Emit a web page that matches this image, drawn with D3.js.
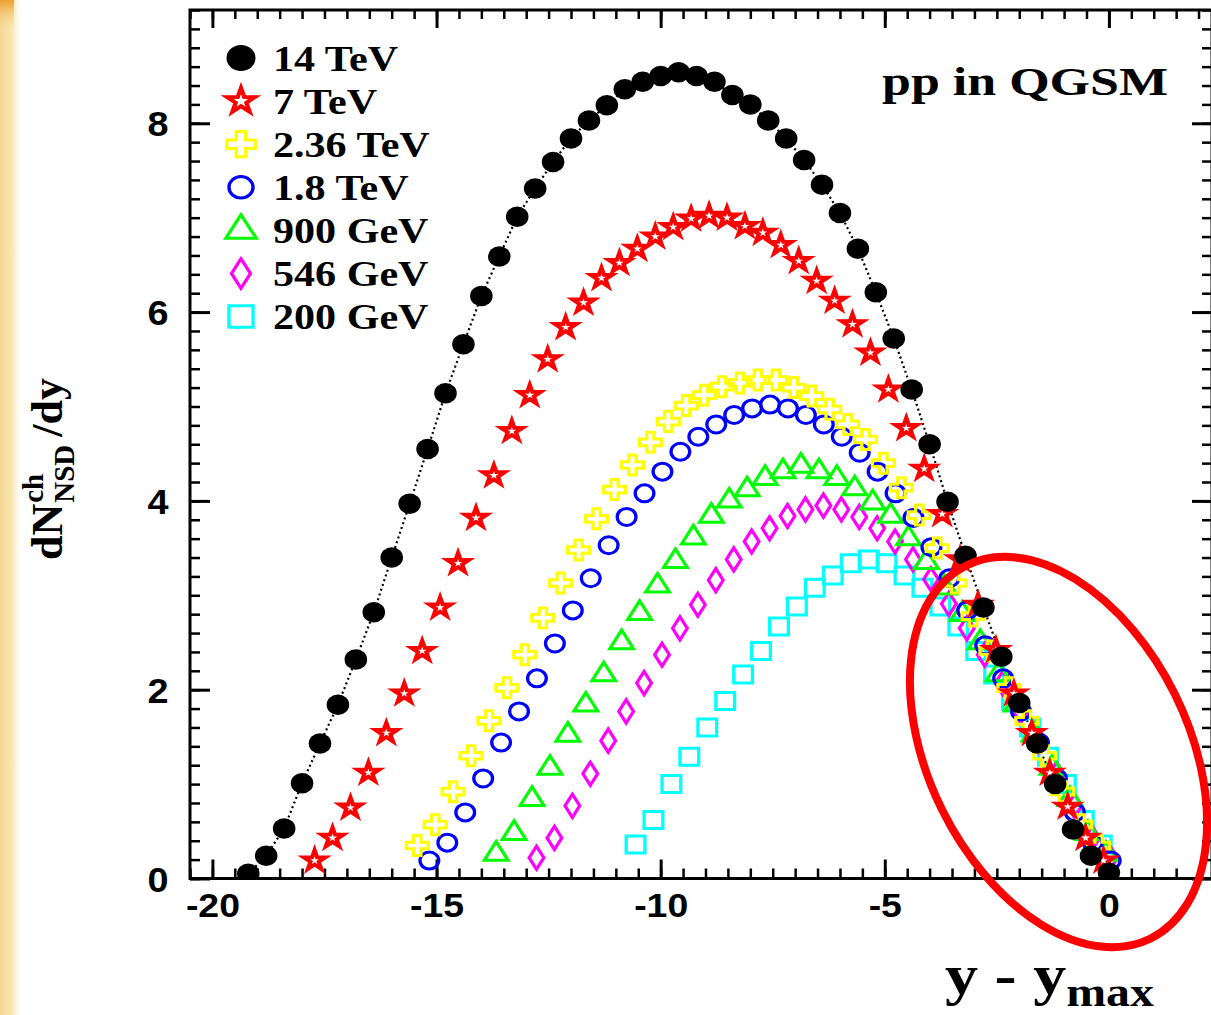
<!DOCTYPE html>
<html><head><meta charset="utf-8">
<script src="https://cdn.jsdelivr.net/npm/d3@7"></script>
<style>body{margin:0;background:#fff}svg{display:block}</style>
</head><body>
<svg id="c" width="1211" height="1015"></svg>
<script>
// ---------- data ----------
const seriesNames = ["14 TeV","7 TeV","2.36 TeV","1.8 TeV","900 GeV","546 GeV","200 GeV"];

const x14TeV = [-19.2,-18.8,-18.4,-18.0,-17.6,-17.2,-16.8,-16.4,-16.0,-15.6,-15.2,-14.8,-14.4,-14.0,-13.6,-13.2,-12.8,-12.4,-12.0,-11.6,-11.2,-10.8,-10.4,-10.0,-9.6,-9.2,-8.8,-8.4,-8.0,-7.6,-7.2,-6.8,-6.4,-6.0,-5.6,-5.2,-4.8,-4.4,-4.0,-3.6,-3.2,-2.8,-2.4,-2.0,-1.6,-1.2,-0.8,-0.4,0.0];
const y14TeV = [0.05,0.24,0.53,1.01,1.43,1.84,2.32,2.82,3.40,3.97,4.55,5.14,5.66,6.17,6.59,7.01,7.31,7.59,7.84,8.03,8.19,8.36,8.44,8.50,8.54,8.50,8.44,8.30,8.20,8.03,7.84,7.61,7.35,7.05,6.67,6.21,5.72,5.18,4.60,3.99,3.42,2.87,2.35,1.86,1.43,1.00,0.52,0.24,0.06];

const x7TeV = [-17.72,-17.32,-16.92,-16.52,-16.12,-15.72,-15.32,-14.92,-14.52,-14.12,-13.72,-13.32,-12.92,-12.52,-12.12,-11.72,-11.32,-10.92,-10.52,-10.12,-9.72,-9.32,-8.92,-8.52,-8.12,-7.72,-7.32,-6.92,-6.52,-6.12,-5.72,-5.32,-4.92,-4.52,-4.12,-3.72,-3.32,-2.92,-2.52,-2.12,-1.72,-1.32,-0.92,-0.52,-0.12];
const y7TeV = [0.19,0.43,0.75,1.12,1.54,1.96,2.41,2.87,3.34,3.82,4.27,4.74,5.12,5.50,5.84,6.10,6.36,6.52,6.67,6.80,6.90,6.99,7.02,7.00,6.91,6.84,6.71,6.54,6.33,6.12,5.87,5.57,5.18,4.77,4.34,3.86,3.38,2.90,2.42,1.96,1.54,1.12,0.76,0.43,0.19];

const x236TeV = [-15.43,-15.03,-14.63,-14.23,-13.83,-13.43,-13.03,-12.63,-12.23,-11.83,-11.43,-11.03,-10.63,-10.23,-9.83,-9.43,-9.03,-8.63,-8.23,-7.83,-7.43,-7.03,-6.63,-6.23,-5.83,-5.43,-5.03,-4.63,-4.23,-3.83,-3.43,-3.03,-2.63,-2.23,-1.83,-1.43,-1.03,-0.63,-0.23];
const y236TeV = [0.35,0.57,0.92,1.30,1.67,2.02,2.37,2.76,3.13,3.48,3.81,4.12,4.38,4.62,4.84,5.01,5.12,5.21,5.25,5.28,5.28,5.20,5.11,4.97,4.81,4.65,4.40,4.14,3.85,3.50,3.13,2.78,2.41,2.02,1.67,1.30,0.92,0.57,0.35];

const x18TeV = [-15.16,-14.76,-14.36,-13.96,-13.56,-13.16,-12.76,-12.36,-11.96,-11.56,-11.16,-10.76,-10.36,-9.96,-9.56,-9.16,-8.76,-8.36,-7.96,-7.56,-7.16,-6.76,-6.36,-5.96,-5.56,-5.16,-4.76,-4.36,-3.96,-3.56,-3.16,-2.76,-2.36,-1.96,-1.56,-1.16,-0.76,-0.36,0.04];
const y18TeV = [0.19,0.38,0.70,1.06,1.44,1.77,2.12,2.49,2.84,3.18,3.53,3.83,4.08,4.31,4.52,4.68,4.81,4.91,4.98,5.02,4.98,4.91,4.81,4.68,4.51,4.31,4.08,3.82,3.51,3.18,2.84,2.47,2.12,1.77,1.44,1.06,0.70,0.38,0.19];

const x900GeV = [-13.67,-13.27,-12.87,-12.47,-12.07,-11.67,-11.27,-10.87,-10.47,-10.07,-9.67,-9.27,-8.87,-8.47,-8.07,-7.67,-7.27,-6.87,-6.47,-6.07,-5.67,-5.27,-4.87,-4.47,-4.07,-3.67,-3.27,-2.87,-2.47,-2.07,-1.67,-1.27,-0.87,-0.47,-0.07];
const y900GeV = [0.26,0.48,0.84,1.17,1.52,1.84,2.16,2.50,2.81,3.10,3.36,3.61,3.84,4.00,4.12,4.24,4.31,4.37,4.31,4.24,4.13,3.98,3.84,3.60,3.35,3.08,2.80,2.50,2.16,1.84,1.52,1.17,0.84,0.48,0.26];

const x546GeV = [-12.77,-12.37,-11.97,-11.57,-11.17,-10.77,-10.37,-9.97,-9.57,-9.17,-8.77,-8.37,-7.97,-7.57,-7.17,-6.77,-6.37,-5.97,-5.57,-5.17,-4.77,-4.37,-3.97,-3.57,-3.17,-2.77,-2.37,-1.97,-1.57,-1.17,-0.77,-0.37,0.03];
const y546GeV = [0.22,0.43,0.77,1.11,1.46,1.77,2.07,2.37,2.65,2.90,3.16,3.38,3.57,3.71,3.84,3.91,3.95,3.91,3.83,3.71,3.57,3.38,3.17,2.91,2.65,2.37,2.07,1.77,1.46,1.11,0.77,0.43,0.22];

const x200GeV = [-10.56,-10.16,-9.76,-9.36,-8.96,-8.56,-8.16,-7.76,-7.36,-6.96,-6.56,-6.16,-5.76,-5.36,-4.96,-4.56,-4.16,-3.76,-3.36,-2.96,-2.56,-2.16,-1.76,-1.36,-0.96,-0.56,-0.16];
const y200GeV = [0.36,0.62,1.00,1.29,1.60,1.88,2.16,2.41,2.67,2.88,3.08,3.21,3.34,3.38,3.34,3.21,3.08,2.88,2.67,2.41,2.16,1.88,1.60,1.29,1.00,0.62,0.36];

const xTickValues = [-20,-15,-10,-5,0];
const yTickValues = [0,2,4,6,8];
const title = "pp in QGSM";

// ---------- layout ----------
const svg = d3.select("#c");
const x = d3.scaleLinear().domain([-20.5, 2.3]).range([190, 1212]);
const y = d3.scaleLinear().domain([0, 9.2]).range([878.5, 10]);
const X0 = x.range()[0], X1 = x.range()[1], Y0 = y.range()[0], Y1 = y.range()[1];

svg.append("rect").attr("width",1211).attr("height",1015).attr("fill","#fff");

// left beige glow strip
const defs = svg.append("defs");
const g1 = defs.append("linearGradient").attr("id","strip").attr("x1","0").attr("x2","1").attr("y1","0").attr("y2","0");
g1.append("stop").attr("offset","0").attr("stop-color","#f3d790");
g1.append("stop").attr("offset","0.6").attr("stop-color","#f8e7b6");
g1.append("stop").attr("offset","1").attr("stop-color","#ffffff");
const g2 = defs.append("linearGradient").attr("id","corner").attr("x1","0").attr("x2","0").attr("y1","0").attr("y2","1");
g2.append("stop").attr("offset","0").attr("stop-color","#eea030");
g2.append("stop").attr("offset","1").attr("stop-color","#f3d790").attr("stop-opacity",0);
svg.append("rect").attr("x",0).attr("y",0).attr("width",20).attr("height",1015).attr("fill","url(#strip)");
svg.append("rect").attr("x",0).attr("y",0).attr("width",14).attr("height",30).attr("fill","url(#corner)");

defs.append("clipPath").attr("id","plotclip").append("rect")
  .attr("x",X0).attr("y",Y1).attr("width",X1-X0).attr("height",Y0-Y1);

// ---------- axes ----------
const fmt = d => String(d);
const axisStyle = (g, w) => {
  g.select(".domain").remove();
  g.selectAll(".tick line").attr("stroke","#000").attr("stroke-width",w);
};
const xMinor = d3.range(-20.5, 2.31, 0.5);
const yMinor = d3.range(0, 9.21, 0.2);
svg.append("g").attr("transform",`translate(0,${Y0})`)
  .call(d3.axisBottom(x).tickValues(xMinor).tickSize(-10).tickFormat(""))
  .call(g=>axisStyle(g,2.5));
svg.append("g").attr("transform",`translate(0,${Y1})`)
  .call(d3.axisTop(x).tickValues(xMinor).tickSize(-9).tickFormat(""))
  .call(g=>axisStyle(g,2.5));
svg.append("g").attr("transform",`translate(${X0},0)`)
  .call(d3.axisLeft(y).tickValues(yMinor).tickSize(-10).tickFormat(""))
  .call(g=>axisStyle(g,2.5));
svg.append("g").attr("transform",`translate(${X1},0)`)
  .call(d3.axisRight(y).tickValues(yMinor).tickSize(-10).tickFormat(""))
  .call(g=>axisStyle(g,2.5));
const xAx = svg.append("g").attr("transform",`translate(0,${Y0})`)
  .call(d3.axisBottom(x).tickValues(xTickValues).tickSize(-19).tickPadding(14).tickFormat(fmt));
axisStyle(xAx,3);
xAx.selectAll("text").attr("fill","#000").attr("font-family","'Liberation Sans',Arial,sans-serif")
  .attr("font-weight","bold").attr("font-size",34).attr("transform","scale(1.1,1)");
svg.append("g").attr("transform",`translate(0,${Y1})`)
  .call(d3.axisTop(x).tickValues(xTickValues).tickSize(-18).tickFormat("")).call(g=>axisStyle(g,3));
const yAx = svg.append("g").attr("transform",`translate(${X0},0)`)
  .call(d3.axisLeft(y).tickValues(yTickValues).tickSize(-20).tickPadding(20).tickFormat(fmt));
axisStyle(yAx,3);
yAx.selectAll("text").attr("fill","#000").attr("font-family","'Liberation Sans',Arial,sans-serif")
  .attr("font-weight","bold").attr("font-size",35).attr("dy","0.36em").attr("transform","scale(1.08,1)");
svg.append("g").attr("transform",`translate(${X1},0)`)
  .call(d3.axisRight(y).tickValues(yTickValues).tickSize(-20).tickFormat("")).call(g=>axisStyle(g,3));

svg.append("rect").attr("x",X0).attr("y",Y1).attr("width",X1-X0).attr("height",Y0-Y1)
  .attr("fill","none").attr("stroke","#000").attr("stroke-width",3);

// ---------- series ----------
const series = [
  {name:seriesNames[6], xs:x200GeV, ys:y200GeV, sym:d3.symbolSquare,   size:289, color:"#00ffff", fill:"none", sw:3},
  {name:seriesNames[5], xs:x546GeV, ys:y546GeV, sym:d3.symbolDiamond,  size:155, color:"#ff00ff", fill:"none", sw:3},
  {name:seriesNames[4], xs:x900GeV, ys:y900GeV, sym:d3.symbolTriangle, size:200, color:"#00ff00", fill:"none", sw:3},
  {name:seriesNames[3], xs:x18TeV,  ys:y18TeV,  sym:d3.symbolCircle,   size:227, color:"#0000ff", fill:"none", sw:3},
  {name:seriesNames[2], xs:x236TeV, ys:y236TeV, sym:d3.symbolCross,    size:222, color:"#ffff00", fill:"none", sw:3},
  {name:seriesNames[1], xs:x7TeV,   ys:y7TeV,   sym:d3.symbolStar,     size:120, color:"#ff0000", fill:"#fff", sw:3.8},
  {name:seriesNames[0], xs:x14TeV,  ys:y14TeV,  sym:d3.symbolCircle,   size:330, color:"#000000", fill:"#000", sw:0}
];

const plot = svg.append("g").attr("clip-path","url(#plotclip)");
const s14 = series[6];
plot.append("path")
  .datum(s14.xs.map((v,i)=>[v,s14.ys[i]]))
  .attr("d", d3.line().x(d=>x(d[0])).y(d=>y(d[1])))
  .attr("fill","none").attr("stroke","#000").attr("stroke-width",2.2).attr("stroke-dasharray","2,3");

series.forEach(s=>{
  const pts = s.xs.map((v,i)=>[v,s.ys[i]]);
  plot.append("g").selectAll("path").data(pts).join("path")
    .attr("d", d3.symbol().type(s.sym).size(s.size)())
    .attr("transform", d=>`translate(${x(d[0])},${y(d[1])}) scale(1.1,1)`)
    .attr("fill", s.fill).attr("stroke", s.color).attr("stroke-width", s.sw)
    .attr("stroke-linejoin","miter");
});

// ---------- legend ----------
const legendOrder = [6,5,4,3,2,1,0];
const leg = svg.append("g");
legendOrder.forEach((si,i)=>{
  const s = series[si];
  const cy = 58 + i*43.1;
  leg.append("path").attr("d", d3.symbol().type(s.sym).size(s.size*1.6)())
    .attr("transform",`translate(241,${cy}) scale(1.12,1)`)
    .attr("fill", s.fill).attr("stroke", s.color).attr("stroke-width", s.sw);
  leg.append("text").text(s.name)
    .attr("transform",`translate(273,${cy+12.5}) scale(1.17,1)`)
    .attr("font-family","'Liberation Serif','Times New Roman',serif").attr("font-weight","bold")
    .attr("font-size",36).attr("fill","#000");
});

svg.append("text").text(title).attr("x",882).attr("y",95)
  .attr("font-family","'Liberation Serif','Times New Roman',serif").attr("font-weight","bold")
  .attr("font-size",41).attr("textLength",286).attr("lengthAdjust","spacingAndGlyphs").attr("fill","#000");

// x axis title
const xt = svg.append("text").attr("transform","translate(945,994) scale(1.14,1)")
  .attr("font-family","'Liberation Serif','Times New Roman',serif").attr("font-weight","bold").attr("fill","#000");
xt.append("tspan").attr("font-size",58).text("y - y");
xt.append("tspan").attr("font-size",42).attr("dy",12).text("max");

// y axis title (rotated)
const yt = svg.append("g").attr("transform","translate(62,560) rotate(-90)");
const serifAttrs = sel => sel.attr("font-family","'Liberation Serif','Times New Roman',serif").attr("font-weight","bold").attr("fill","#000");
const t1 = yt.append("text").attr("x",0).attr("y",0).attr("font-size",44).text("dN").call(serifAttrs);
const w1 = t1.node().getComputedTextLength();
yt.append("text").attr("x",w1+1).attr("y",-19).attr("font-size",29).text("ch").call(serifAttrs);
const t3 = yt.append("text").attr("x",w1+1).attr("y",12).attr("font-size",29).text("NSD").call(serifAttrs);
const w3 = t3.node().getComputedTextLength();
yt.append("text").attr("x",w1+w3+9).attr("y",0).attr("font-size",44).text("/dy").call(serifAttrs);

// red ellipse highlight
svg.append("ellipse").attr("cx",1058.5).attr("cy",752).attr("rx",208).attr("ry",130)
  .attr("transform","rotate(63.7,1058.5,752)")
  .attr("fill","none").attr("stroke","#ff0000").attr("stroke-width",8);
</script>
</body></html>
